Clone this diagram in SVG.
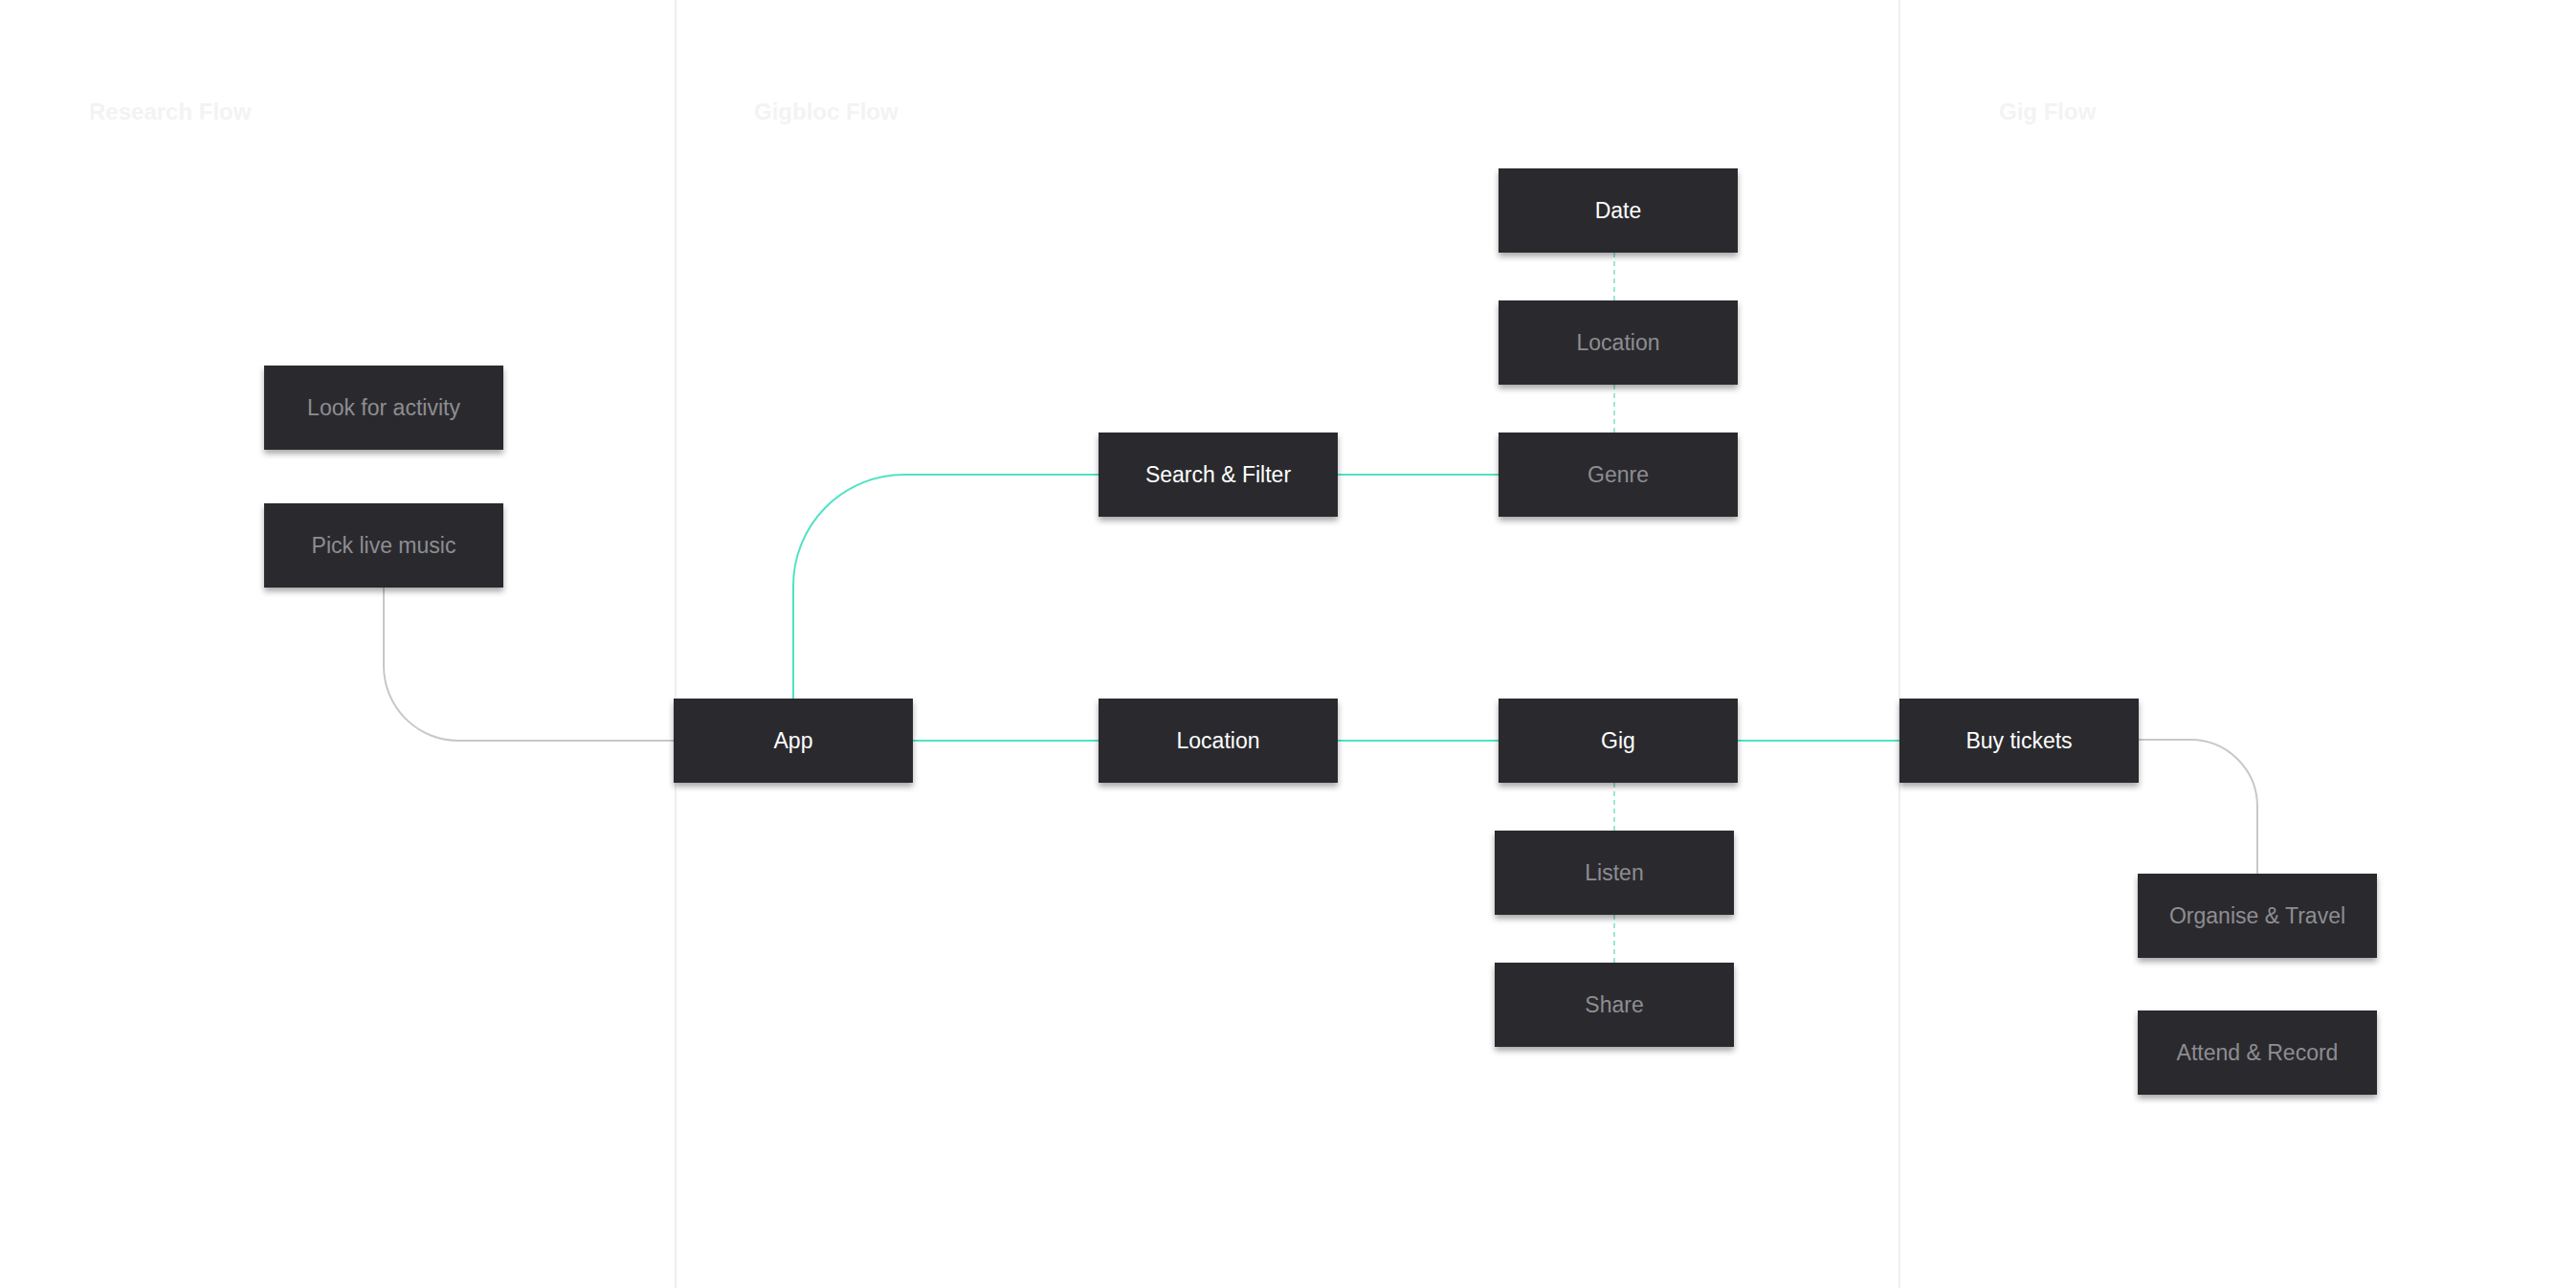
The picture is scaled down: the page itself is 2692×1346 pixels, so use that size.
<svg xmlns="http://www.w3.org/2000/svg" width="2692" height="1346" viewBox="0 0 2692 1346">
<defs>
<filter id="sh" x="-10%" y="-20%" width="120%" height="150%">
<feDropShadow dx="0" dy="4" stdDeviation="3" flood-color="#000" flood-opacity="0.35"/>
</filter>
<style>
.bg{fill:#ffffff}
.sep{stroke:#efefef;stroke-width:2;fill:none}
.title{font-family:"Liberation Sans",Arial,sans-serif;font-size:24px;font-weight:bold;fill:#f3f3f3}
.box{fill:#2a292e;filter:url(#sh)}
.t{font-family:"Liberation Sans",Arial,sans-serif;font-size:23px;text-anchor:middle}
.on{fill:#ffffff}
.off{fill:#8e8d92}
.g{stroke:#50e3c2;stroke-width:2;fill:none}
.gr{stroke:#c8c8c8;stroke-width:2;fill:none}
.d{stroke:#9de8d5;stroke-width:2;fill:none;stroke-dasharray:5 4}
</style>
</defs>
<rect class="bg" x="0" y="0" width="2692" height="1346"/>
<g id="lanes">
<line class="sep" x1="706" y1="0" x2="706" y2="1346"/>
<line class="sep" x1="1985" y1="0" x2="1985" y2="1346"/>
<text class="title" x="93" y="125">Research Flow</text>
<text class="title" x="788" y="125">Gigbloc Flow</text>
<text class="title" x="2089" y="125">Gig Flow</text>
</g>
<g id="connectors">
<path class="gr" d="M401 614 V696 A78 78 0 0 0 479 774 H704"/>
<path class="g" d="M829 730 V612 A116 116 0 0 1 945 496 H1148"/>
<path class="g" d="M1398 496 H1566"/>
<path class="g" d="M954 774 H1148"/>
<path class="g" d="M1398 774 H1566"/>
<path class="g" d="M1816 774 H1985"/>
<path class="gr" d="M2235 773 H2289 A70 70 0 0 1 2359 843 V913"/>
<path class="d" d="M1687 264 V314"/>
<path class="d" d="M1687 402 V452"/>
<path class="d" d="M1687 818 V868"/>
<path class="d" d="M1687 956 V1006"/>
</g>
<g id="n-look"><rect class="box" x="276" y="382" width="250" height="88"/><text class="t off" x="401" y="434">Look for activity</text></g>
<g id="n-pick"><rect class="box" x="276" y="526" width="250" height="88"/><text class="t off" x="401" y="578">Pick live music</text></g>
<g id="n-app"><rect class="box" x="704" y="730" width="250" height="88"/><text class="t on" x="829" y="782">App</text></g>
<g id="n-location"><rect class="box" x="1148" y="730" width="250" height="88"/><text class="t on" x="1273" y="782">Location</text></g>
<g id="n-search"><rect class="box" x="1148" y="452" width="250" height="88"/><text class="t on" x="1273" y="504">Search &amp; Filter</text></g>
<g id="n-date"><rect class="box" x="1566" y="176" width="250" height="88"/><text class="t on" x="1691" y="228">Date</text></g>
<g id="n-floc"><rect class="box" x="1566" y="314" width="250" height="88"/><text class="t off" x="1691" y="366">Location</text></g>
<g id="n-genre"><rect class="box" x="1566" y="452" width="250" height="88"/><text class="t off" x="1691" y="504">Genre</text></g>
<g id="n-gig"><rect class="box" x="1566" y="730" width="250" height="88"/><text class="t on" x="1691" y="782">Gig</text></g>
<g id="n-listen"><rect class="box" x="1562" y="868" width="250" height="88"/><text class="t off" x="1687" y="920">Listen</text></g>
<g id="n-share"><rect class="box" x="1562" y="1006" width="250" height="88"/><text class="t off" x="1687" y="1058">Share</text></g>
<g id="n-buy"><rect class="box" x="1985" y="730" width="250" height="88"/><text class="t on" x="2110" y="782">Buy tickets</text></g>
<g id="n-organise"><rect class="box" x="2234" y="913" width="250" height="88"/><text class="t off" x="2359" y="965">Organise &amp; Travel</text></g>
<g id="n-attend"><rect class="box" x="2234" y="1056" width="250" height="88"/><text class="t off" x="2359" y="1108">Attend &amp; Record</text></g>
</svg>
